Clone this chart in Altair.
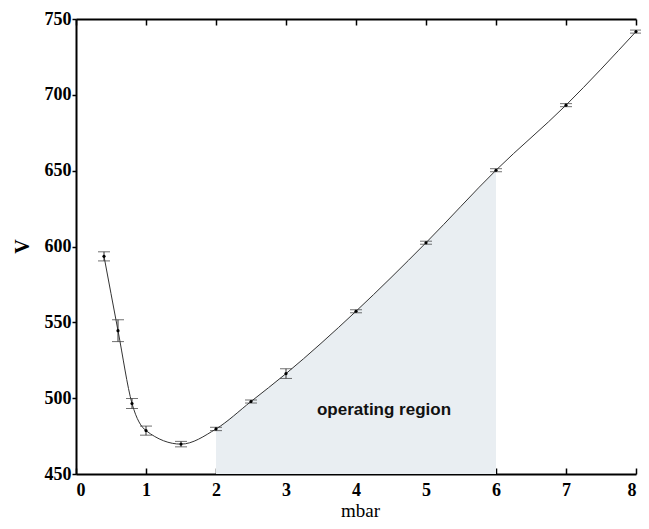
import altair as alt
import pandas as pd

# Data
pressure = [0.4, 0.6, 0.8, 1.0, 1.5, 2.0, 2.5, 3.0, 4.0, 5.0, 6.0, 7.0, 8.0]
voltage = [593.5, 544.5, 496.5, 478.6, 469.7, 479.7, 497.8, 516.2, 557.3, 602.5, 650.3, 693.2, 741.7]
error = [3.0, 7.2, 3.3, 3.0, 1.8, 1.1, 1.0, 3.2, 1.0, 1.0, 1.0, 1.0, 1.0]
x_ticks = [0, 1, 2, 3, 4, 5, 6, 7, 8]
y_ticks = [450, 500, 550, 600, 650, 700, 750]
region = [2.0, 6.0]
label_text = ["operating region"]
label_x = [4.4]
label_y = [492]

df = pd.DataFrame({"p": pressure, "v": voltage, "e": error})
df["lo"] = df["v"] - df["e"]
df["hi"] = df["v"] + df["e"]
reg = df[(df["p"] >= region[0]) & (df["p"] <= region[1])]
lab = pd.DataFrame({"p": label_x, "v": label_y, "t": label_text})

xs = alt.Scale(domain=[0, 8.0], nice=False, zero=False)
ys = alt.Scale(domain=[450, 750], nice=False, zero=False)

serif = "Liberation Serif"

y_axis = alt.Axis(
    values=y_ticks, title="V", tickSize=4, labelPadding=1,
    titleFont=serif, titleFontSize=20, titleFontWeight="bold",
    titleX=-54, titleY=227, titleBaseline="middle", titleAlign="center", titleAngle=270,
)
bottom_axis = alt.Axis(
    orient="bottom", values=x_ticks, title="mbar", tickSize={"expr": "-6"},
    labelPadding=13, titleFont=serif, titleFontSize=19, titleFontWeight="normal",
    titleX=284, titleY=42, titleBaseline="alphabetic", titleAlign="center",
)
top_axis = alt.Axis(
    orient="top", values=x_ticks, title=None, labels=False, tickSize={"expr": "-6"},
)

base = alt.Chart(df)

area = alt.Chart(reg).mark_area(color="#e9eef2", interpolate="monotone").encode(
    x=alt.X("p:Q", scale=xs, axis=top_axis),
    y=alt.Y("v:Q", scale=ys, axis=y_axis),
    y2=alt.datum(450),
)

text = alt.Chart(lab).mark_text(
    font="Liberation Sans", fontSize=17, fontWeight="bold", color="#111111"
).encode(
    x=alt.X("p:Q", scale=xs, axis=None),
    y=alt.Y("v:Q", scale=ys, axis=y_axis),
    text="t:N",
)

line = base.mark_line(color="#333333", strokeWidth=1, interpolate="monotone").encode(
    x=alt.X("p:Q", scale=xs, axis=bottom_axis),
    y=alt.Y("v:Q", scale=ys, axis=y_axis),
)

bars = base.mark_rule(color="#333333", strokeWidth=1).encode(
    x=alt.X("p:Q", scale=xs, axis=None),
    y=alt.Y("lo:Q", scale=ys, axis=y_axis),
    y2="hi:Q",
)

cap_lo = base.mark_tick(color="#333333", orient="horizontal", size=12, thickness=1).encode(
    x=alt.X("p:Q", scale=xs, axis=None),
    y=alt.Y("lo:Q", scale=ys, axis=y_axis),
)
cap_hi = base.mark_tick(color="#333333", orient="horizontal", size=12, thickness=1).encode(
    x=alt.X("p:Q", scale=xs, axis=None),
    y=alt.Y("hi:Q", scale=ys, axis=y_axis),
)

points = base.mark_point(filled=True, color="#000000", size=10, opacity=1).encode(
    x=alt.X("p:Q", scale=xs, axis=None),
    y=alt.Y("v:Q", scale=ys, axis=y_axis),
)

chart = alt.layer(area, text, line, bars, cap_lo, cap_hi, points).resolve_axis(
    x="independent"
).properties(
    width=560, height=455,
    autosize=alt.AutoSizeParams(type="none"),
    padding={"left": 68, "top": 11, "right": 5, "bottom": 47},
).configure_view(stroke=None).configure_axis(
    domainColor="black", domainWidth=2, tickColor="black", tickWidth=1.5,
    labelFont=serif, labelFontSize=18, labelFontWeight="bold", labelColor="black",
    titleColor="black", grid=False,
)

chart.save("out.html", embed_options={"renderer": "svg", "actions": False})
